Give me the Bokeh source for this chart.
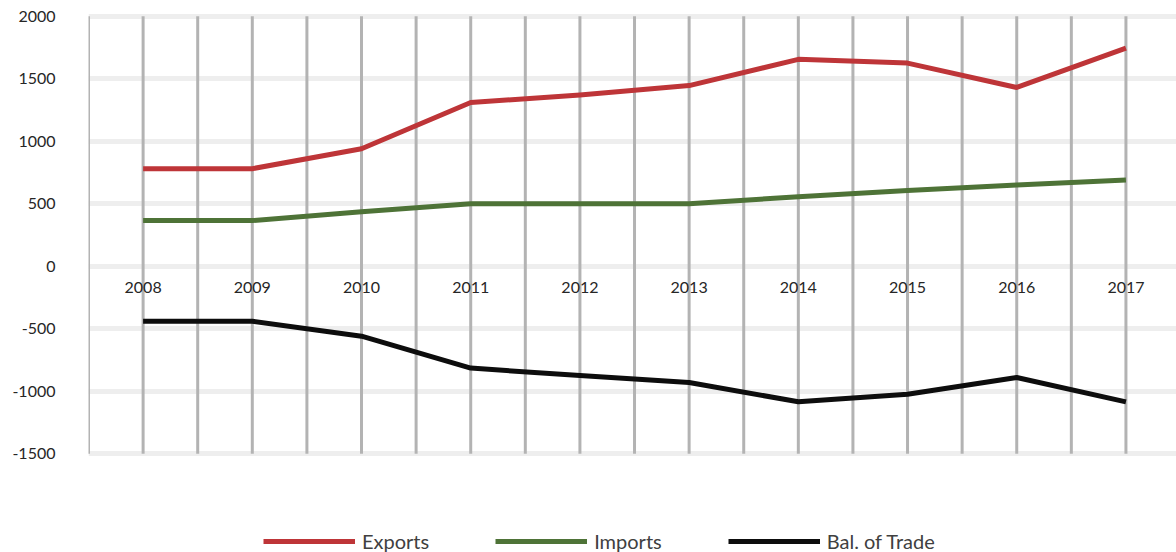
import numpy as np
from bokeh.plotting import figure
from bokeh.models import Range1d, FixedTicker, Legend, LegendItem
from bokeh.core.properties import value
from bokeh.embed import file_html
from bokeh.resources import INLINE

years = ["2008", "2009", "2010", "2011", "2012", "2013", "2014", "2015", "2016", "2017"]
exports = [780, 780, 940, 1310, 1370, 1445, 1655, 1625, 1430, 1745]
imports = [365, 365, 435, 500, 500, 500, 555, 605, 650, 690]
balance = [-440, -440, -560, -815, -875, -930, -1085, -1025, -890, -1085]
y_ticks = [-1500, -1000, -500, 0, 500, 1000, 1500, 2000]

xs = list(range(len(years)))

p = figure(width=1176, height=552, output_backend="svg", toolbar_location=None,
           x_range=Range1d(-0.5, 9.463), y_range=Range1d(-2290.4, 2125.6),
           x_axis_location=None, min_border_left=88, min_border_right=0,
           min_border_top=0, min_border_bottom=0)
p.outline_line_color = None
p.background_fill_color = "white"
p.border_fill_color = "white"

# horizontal gridlines
p.xgrid.visible = False
p.ygrid.ticker = FixedTicker(ticks=y_ticks)
p.ygrid.grid_line_color = "#eeeeee"
p.ygrid.grid_line_width = 5

# y axis
yax = p.yaxis[0]
yax.ticker = FixedTicker(ticks=y_ticks)
yax.major_label_overrides = {t: str(t) for t in y_ticks}
yax.axis_line_color = None
yax.major_tick_line_color = None
yax.minor_tick_line_color = None
yax.major_label_standoff = 27
yax.major_label_text_font = "Lato"
yax.major_label_text_font_size = "16px"
yax.major_label_text_color = "#262626"

# vertical gridlines (at categories and between)
vx = np.arange(-0.5, len(years), 0.5)
p.segment(x0=vx, x1=vx, y0=min(y_ticks), y1=max(y_ticks), line_color="#b3b3b3", line_width=3)

# category labels along zero line
p.text(x=xs, y=[0] * len(xs), text=years, text_align="center", text_baseline="middle",
       y_offset=21, text_font=value("Lato"), text_font_size="16px", text_color="#262626")

r_exp = p.line(xs, exports, line_color="#BE3538", line_width=5, line_join="round")
r_imp = p.line(xs, imports, line_color="#4E7337", line_width=5, line_join="round")
r_bal = p.line(xs, balance, line_color="#0d0d0d", line_width=5, line_join="round")

legend = Legend(items=[LegendItem(label="Exports", renderers=[r_exp]),
                       LegendItem(label="Imports", renderers=[r_imp]),
                       LegendItem(label="Bal. of Trade", renderers=[r_bal])],
                location=(175, -1), orientation="horizontal",
                glyph_width=92, glyph_height=20, label_standoff=7, spacing=66,
                padding=0, margin=0, border_line_alpha=0, background_fill_alpha=0,
                label_text_font="Lato", label_text_font_size="20px",
                label_text_color="#404040")
p.add_layout(legend, "center")

open("out.html", "w").write(file_html(p, INLINE))
